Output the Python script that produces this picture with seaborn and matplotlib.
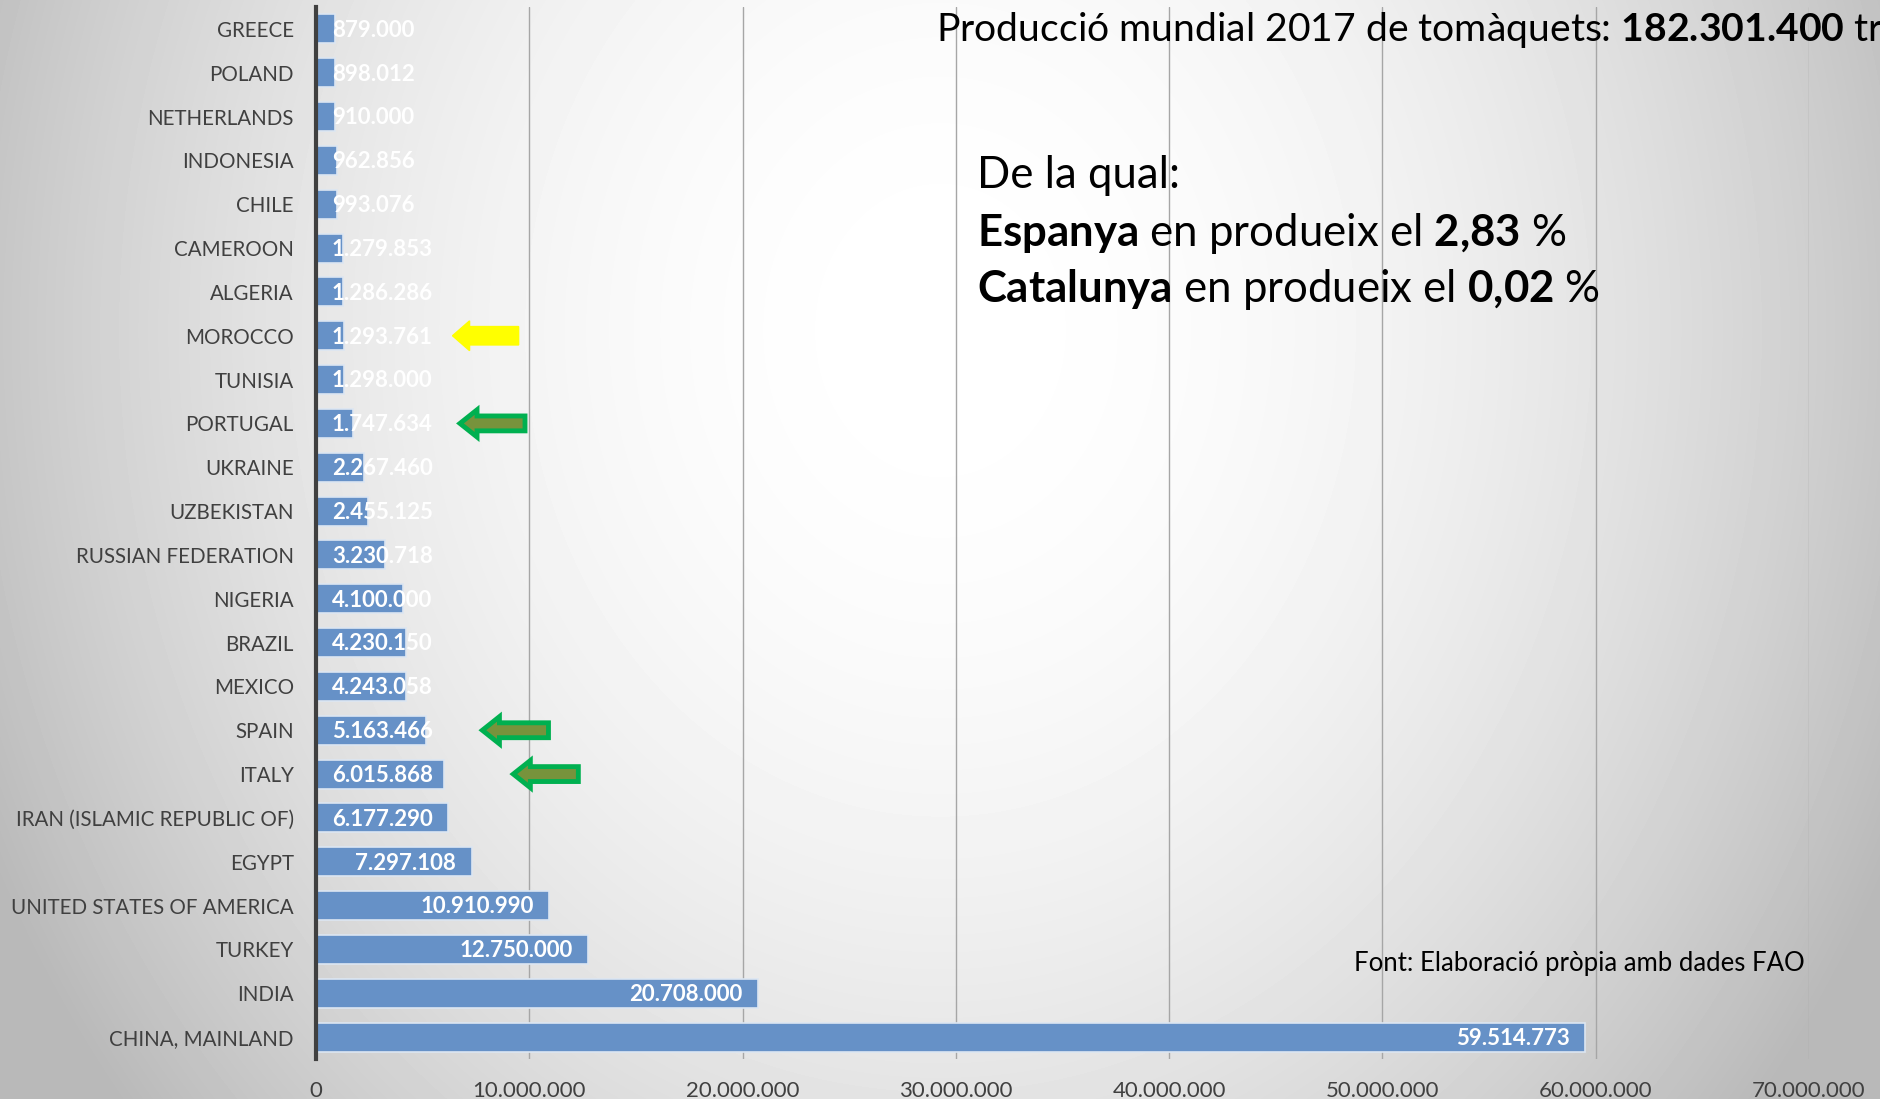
import numpy as np
import pandas as pd
import matplotlib
matplotlib.use("Agg")
import matplotlib.pyplot as plt
import matplotlib.patches as mpatches
import seaborn as sns

countries = ["GREECE", "POLAND", "NETHERLANDS", "INDONESIA", "CHILE", "CAMEROON",
             "ALGERIA", "MOROCCO", "TUNISIA", "PORTUGAL", "UKRAINE", "UZBEKISTAN",
             "RUSSIAN FEDERATION", "NIGERIA", "BRAZIL", "MEXICO", "SPAIN", "ITALY",
             "IRAN (ISLAMIC REPUBLIC OF)", "EGYPT", "UNITED STATES OF AMERICA",
             "TURKEY", "INDIA", "CHINA, MAINLAND"]
production = [879000, 898012, 910000, 962856, 993076, 1279853,
              1286286, 1293761, 1298000, 1747634, 2267460, 2455125,
              3230718, 4100000, 4230150, 4243058, 5163466, 6015868,
              6177290, 7297108, 10910990, 12750000, 20708000, 59514773]
xticks = [0, 10000000, 20000000, 30000000, 40000000, 50000000, 60000000, 70000000]

# fletxes (pais, x punta, x cua)
arrows_yellow = [("MOROCCO", 6.4e6, 9.5e6)]
arrows_green = [("PORTUGAL", 6.75e6, 9.8e6), ("SPAIN", 7.8e6, 10.9e6), ("ITALY", 9.25e6, 12.3e6)]

def fmt(v):
    return f"{v:,}".replace(",", ".")

sns.set_style("white")
plt.rcParams["font.family"] = ["Lato", "DejaVu Sans"]
plt.rcParams["mathtext.fontset"] = "custom"
plt.rcParams["mathtext.rm"] = "Lato"
plt.rcParams["mathtext.bf"] = "Lato:bold"

df = pd.DataFrame({"country": countries, "prod": production})

fig = plt.figure(figsize=(18.8, 10.99), dpi=100)

# fons amb degradat radial
bg = fig.add_axes([0, 0, 1, 1], zorder=-10)
yy, xx = np.mgrid[0:1099, 0:1880]
d = np.sqrt(((xx - 940) / 940.0) ** 2 + ((yy - 330) / 1100.0) ** 2)
g = 1 - 0.22 * np.clip(d, 0, 1.12) ** 2
bg.imshow(g, cmap="gray", vmin=0, vmax=1, aspect="auto", interpolation="bilinear")
bg.axis("off")

ax = fig.add_axes([316 / 1880, 1 - 1059 / 1099, (1809 - 316) / 1880, (1059 - 7) / 1099])
ax.patch.set_alpha(0)

sns.barplot(data=df, x="prod", y="country", orient="h", color="#6691c7",
            saturation=1, width=0.66, edgecolor="#dce6f2", linewidth=1.2, ax=ax)

ax.set_xlim(0, 70000000)
ax.set_ylim(len(countries) - 0.5, -0.5)
ax.set_xticks(xticks)
ax.set_xticklabels([fmt(t) for t in xticks], fontsize=16, color="#404040")
ax.tick_params(axis="x", length=0, pad=16)
ax.tick_params(axis="y", length=0, pad=16, labelsize=14.8, labelcolor="#404040")
ax.set_xlabel("")
ax.set_ylabel("")
for t in xticks[1:]:
    ax.axvline(t, color="#a6a6a6", lw=1.0, zorder=0)
for s in ["top", "right", "bottom"]:
    ax.spines[s].set_visible(False)
ax.spines["left"].set_color("#404040")
ax.spines["left"].set_linewidth(3)

# etiquetes de valor (com "extrem interior" d'Excel)
fig.canvas.draw()
r = fig.canvas.get_renderer()
x0px = ax.transData.transform((0, 0))[0]
for i, v in enumerate(production):
    t = ax.annotate(fmt(v), xy=(v, i), xytext=(-11, -1), textcoords="offset points",
                    ha="right", va="center", color="white", fontsize=16,
                    fontweight="bold", zorder=5)
    bb = t.get_window_extent(r)
    if bb.x0 < x0px + 15:
        t.xy = (0, i)
        t.set_position((11.5, -1))
        t.set_ha("left")

# fletxes
for name, xs, xe in arrows_yellow:
    i = countries.index(name)
    ax.add_patch(mpatches.FancyArrow(xe, i, xs - xe, 0, width=0.42, head_width=0.68,
                                     head_length=0.8e6, length_includes_head=True,
                                     fc="#ffff00", ec="#ffff00", lw=1, zorder=6))
for name, xs, xe in arrows_green:
    i = countries.index(name)
    ax.add_patch(mpatches.FancyArrow(xe, i, xs - xe, 0, width=0.34, head_width=0.62,
                                     head_length=0.8e6, length_includes_head=True,
                                     fc="#77933c", ec="#00b050", lw=3.5, zorder=6))

fig.text(936 / 1880, 1 - 30 / 1099,
         r"Producció mundial 2017 de tomàquets: $\mathbf{182.301.400}$ tr",
         fontsize=28.2, va="center", ha="left", color="black")
fig.text(977 / 1880, 1 - 176 / 1099, "De la qual:", fontsize=31.5, va="center", color="black")
fig.text(977 / 1880, 1 - 233 / 1099, r"$\mathbf{Espanya}$ en produeix el $\mathbf{2{,}83}$ %",
         fontsize=31.5, va="center", color="black")
fig.text(977 / 1880, 1 - 290 / 1099, r"$\mathbf{Catalunya}$ en produeix el $\mathbf{0{,}02}$ %",
         fontsize=31.5, va="center", color="black")
fig.text(1354 / 1880, 1 - 964 / 1099, "Font: Elaboració pròpia amb dades FAO",
         fontsize=18.5, va="center", ha="left", color="black")

fig.savefig("out.png", dpi=100)
